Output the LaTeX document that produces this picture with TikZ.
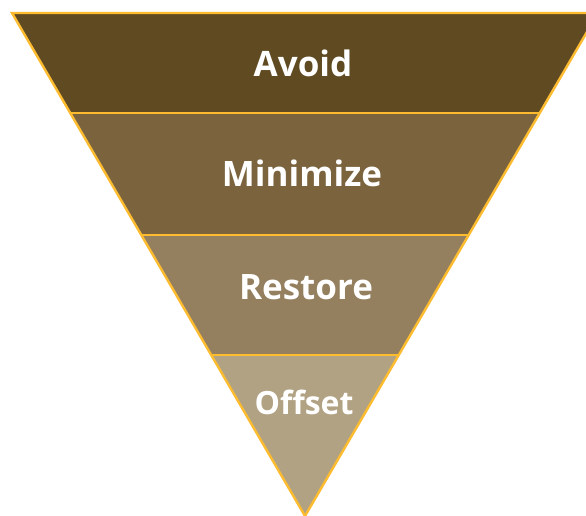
\documentclass[tikz,border=0pt]{standalone}
\usepackage{fontspec}
\setmainfont{Open Sans}
\definecolor{avoidcol}{HTML}{604A22}
\definecolor{minimcol}{HTML}{7A633D}
\definecolor{restorecol}{HTML}{947F5E}
\definecolor{offsetcol}{HTML}{B1A283}
\definecolor{edgecol}{HTML}{FDBB30}
\tikzset{
  edge/.style={draw=edgecol,line width=2.4pt,line join=miter},
  tier/.style={text=white,font=\bfseries\fontsize{35}{40}\selectfont},
}

\begin{document}
\begin{tikzpicture}[x=1pt,y=-1pt]
    \useasboundingbox (0,0) rectangle (586,515);
    \clip (0,0) rectangle (586,515);
    \coordinate (l0) at (12,13);
    \coordinate (r0) at (598,13);
    \coordinate (l1) at (70.4,113);
    \coordinate (r1) at (539.6,113);
    \coordinate (l2) at (141.6,235);
    \coordinate (r2) at (468.4,235);
    \coordinate (l3) at (211.6,355);
    \coordinate (r3) at (398.4,355);
    \coordinate (tip) at (305,516);

    % tiers
    \fill[avoidcol] (l0) -- (r0) -- (r1) -- (l1) -- cycle;
    \fill[minimcol] (l1) -- (r1) -- (r2) -- (l2) -- cycle;
    \fill[restorecol] (l2) -- (r2) -- (r3) -- (l3) -- cycle;
    \fill[offsetcol] (l3) -- (r3) -- (tip) -- cycle;
    \draw[edge] (l0) -- (r0) -- (tip) -- cycle;
    \draw[edge] (l1) -- (r1);
    \draw[edge] (l2) -- (r2);
    \draw[edge] (l3) -- (r3);

    \node[tier] (avoid) at (303,63) {Avoid};
    \node[tier] (minimize) at (302,173) {Minimize};
    \node[tier] (restore) at (306,287) {Restore};
    \node[tier,font=\bfseries\fontsize{32}{38}\selectfont] (offset) at (304,402) {Offset};
\end{tikzpicture}
\end{document}
